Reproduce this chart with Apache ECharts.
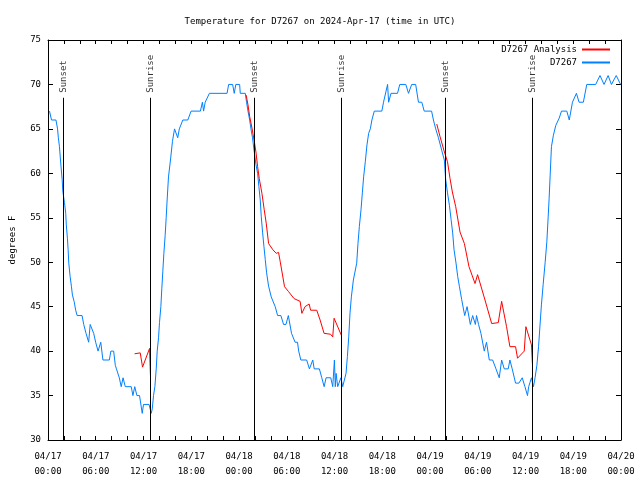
<!DOCTYPE html>
<html>
<head>
<meta charset="utf-8">
<script src="https://cdn.jsdelivr.net/npm/echarts@6/dist/echarts.min.js"></script>
<style>html,body{margin:0;padding:0;background:#fff}#c{width:640px;height:480px}</style>
</head>
<body>
<div id="c"></div>
<script>
// hours since 2024-04-17 00:00 UTC
const xTickLabels = ['04/17\n00:00','04/17\n06:00','04/17\n12:00','04/17\n18:00','04/18\n00:00','04/18\n06:00','04/18\n12:00','04/18\n18:00','04/19\n00:00','04/19\n06:00','04/19\n12:00','04/19\n18:00','04/20\n00:00'];
const yTicks = [30,35,40,45,50,55,60,65,70,75];

const obsHours = [0.19,0.44,1.0,1.2,1.3,1.44,1.57,1.65,1.78,1.86,2.0,2.07,2.23,2.3,2.44,2.53,2.61,2.78,2.94,3.07,3.28,3.48,3.66,4.28,4.49,4.78,5.11,5.3,5.53,5.74,5.99,6.29,6.45,6.63,6.9,7.71,7.9,8.25,8.46,8.6,8.96,9.2,9.43,9.71,10.46,10.67,10.9,11.17,11.5,11.84,12.0,12.7,12.97,13.1,13.26,13.43,13.6,13.72,13.89,14.01,14.18,14.3,14.43,14.56,14.72,14.85,14.97,15.14,15.39,15.64,15.9,16.1,16.3,16.5,16.94,17.57,17.98,19.15,19.4,19.55,19.75,20.28,22.5,22.7,23.2,23.4,23.6,24.08,24.16,24.79,24.95,25.13,25.34,25.5,25.7,25.92,26.13,26.34,26.5,26.67,26.8,26.97,27.13,27.3,27.47,27.72,28.05,28.55,28.85,29.26,29.6,29.9,30.2,30.6,31.05,31.35,31.5,31.77,32.5,32.85,33.1,33.27,33.45,34.1,34.4,34.7,34.94,35.53,35.78,35.99,36.1,36.2,36.4,36.6,36.8,37.03,37.24,37.45,37.62,37.79,37.95,38.12,38.37,38.6,38.79,38.95,39.12,39.33,39.5,39.66,39.87,40.08,40.29,40.5,40.7,41.0,41.95,42.16,42.4,42.67,42.8,43.1,43.92,44.2,44.96,45.3,45.7,46.2,46.55,46.97,47.27,48.2,48.43,48.72,49.06,49.47,49.8,49.97,50.2,50.44,50.65,50.85,51.02,51.27,51.48,51.69,51.98,52.36,52.66,53.07,53.36,53.7,53.85,53.98,54.1,54.4,54.82,55.1,55.45,55.87,56.29,56.7,57.0,57.33,57.83,58.04,58.33,58.75,59.17,59.59,59.93,60.25,60.4,60.5,60.75,61.0,61.2,61.43,61.64,61.8,62.0,62.22,62.47,62.68,62.85,62.97,63.1,63.26,63.51,63.81,64.23,64.52,65.19,65.5,65.9,66.4,66.73,67.27,67.7,68.82,69.36,69.87,70.38,70.8,71.4,71.95];
const obsTemps = [67,66,66,65,64,63,61.5,60.6,59.3,58,57.8,56.7,55.5,54.2,52.7,51.4,49.9,48.4,47.3,46.3,45.6,44.6,44,44,43,42,41,43,43,42,41,40,40,41,39,39,40,40,38.4,38,37,36,37,36,36,35,36,35,35,33,34,34,33,33.5,35,36,38,40,41.5,43.2,45,47,49,51,53,55,57,59.6,61.5,63.6,65,65,64,65,66,66,67,67,68,67,68,69,69,70,70,69,70,70,69,69,68,67,66,65,64,62.4,61,60,58.5,57,55.1,53.3,51.8,50.3,48.8,47.3,46.1,45,44,44,43,43,44,42,41,41,40,39,39,38,38,39,38,38,37,36,37,37,36,39,36,37.5,36,36,37,36,36,37.5,39.4,41.6,44.3,46.1,48,48,49.9,52.1,54,55.9,57.8,59.6,61.3,63.2,64.5,65,66,67,67,68,68,70,68,69,69,70,70,69,70,70,68,68,67,67,66,65,64,62.6,61.5,59.3,57.8,56.4,54.8,53.3,51.4,49.9,48.4,47.3,45.8,44,45,43,44,43,44,44,43,42,40,41,39,39,38,37,39,38,38,39,38,36.4,36.4,37,36,35,36,36,37,36,37,38.4,40.5,42.6,45.2,47.5,50,52.3,55.1,57.2,59.8,63,64.3,65.4,66.2,67,67,66,68,69,68,68,70,70,71,70,71,70,71,70];

const ana1Hours = [10.88,11.59,11.88,12.76,12.87];
const ana1Temps = [39.7,39.8,38.2,40.3,37.3];
const ana2Hours = [24.9,25.13,25.34,25.63,25.92,26.13,26.34,26.55,26.88,27.17,27.42,27.72,28.26,28.68,28.97,29.18,29.72,30.22,30.93,31.68,31.9,32.3,32.81,33.0,33.77,34.19,34.69,35.5,35.78,35.95,36.9];
const ana2Temps = [68.8,67.7,66.4,65.1,63.6,62.4,60.75,59.4,57.75,55.9,54.4,52.1,51.4,51,51.1,50.06,47.25,46.7,45.9,45.6,44.25,45,45.3,44.6,44.6,43.5,42,41.9,41.6,43.7,41.7];
const ana3Hours = [48.85,49.27,49.81,50.2,50.52,50.81,51.23,51.77,52.32,52.9,53.66,53.98,54.91,55.75,56.58,57.0,57.62,58.04,58.75,59.0,59.84,60.05,60.75,60.88];
const ana3Temps = [65.55,64.1,62.4,61.3,59.4,57.9,56.25,53.4,52.1,49.5,47.6,48.6,45.75,43.1,43.2,45.6,42.75,40.5,40.5,39.2,40,42.75,40.7,38.4];

const sunEventHours = [1.93,12.85,25.93,36.87,49.95,60.87];
const sunEventNames = ['Sunset','Sunrise','Sunset','Sunrise','Sunset','Sunrise'];
const sunLineTop = 68.5;

const FONT = 'DejaVu Sans Mono';
const zip = (a, b) => a.map((v, i) => [v, b[i]]);

const chart = echarts.init(document.getElementById('c'), null, {renderer: 'canvas'});
const anaStyle = {type:'line', name:'D7267 Analysis', showSymbol:false, symbol:'none', lineStyle:{color:'#ff0000', width:1}, itemStyle:{color:'#ff0000'}, animation:false, z:3};

const option = {
  animation: false,
  backgroundColor: '#ffffff',
  textStyle: {fontFamily: FONT, color: '#000'},
  title: {
    text: 'Temperature for D7267 on 2024-Apr-17 (time in UTC)',
    left: 'center', top: 12,
    textStyle: {fontFamily: FONT, fontSize: 9, fontWeight: 'normal', color: '#000'}
  },
  legend: {
    data: ['D7267 Analysis', 'D7267'],
    orient: 'vertical', right: 25, top: 40, align: 'right',
    itemWidth: 28, itemHeight: 2, itemGap: 4, icon: 'rect',
    textStyle: {fontFamily: FONT, fontSize: 9, color: '#000'}
  },
  grid: {left: 46.5, right: 19, top: 40, bottom: 40},
  xAxis: [{
    type: 'value', min: 0, max: 72, interval: 6,
    axisLine: {show: true, onZero: false, lineStyle: {color: '#000', width: 1}},
    axisTick: {show: true, inside: true, length: 4, lineStyle: {color: '#000'}},
    minorTick: {show: true, splitNumber: 3, length: 4, lineStyle: {color: '#000'}},
    splitLine: {show: false},
    axisLabel: {fontFamily: FONT, fontSize: 9, color: '#000', lineHeight: 15, margin: 9,
      formatter: v => xTickLabels[Math.round(v / 6)]}
  }, {
    type: 'value', min: 0, max: 72, interval: 6, position: 'top',
    axisLine: {show: true, onZero: false, lineStyle: {color: '#000', width: 1}},
    axisTick: {show: true, inside: true, length: 4, lineStyle: {color: '#000'}},
    minorTick: {show: true, splitNumber: 3, length: 4, lineStyle: {color: '#000'}},
    splitLine: {show: false}, axisLabel: {show: false}
  }],
  yAxis: [{
    type: 'value', min: 30, max: 75, interval: 5,
    name: 'degrees F', nameLocation: 'middle', nameGap: 31, nameRotate: 90,
    nameTextStyle: {fontFamily: FONT, fontSize: 9, color: '#000'},
    axisLine: {show: true, onZero: false, lineStyle: {color: '#000', width: 1}},
    axisTick: {show: true, inside: true, length: 5, lineStyle: {color: '#000'}},
    splitLine: {show: false},
    axisLabel: {fontFamily: FONT, fontSize: 9, color: '#000', margin: 7,
      formatter: v => yTicks.includes(v) ? String(v) : ''}
  }, {
    type: 'value', min: 30, max: 75, interval: 5, position: 'right',
    axisLine: {show: true, onZero: false, lineStyle: {color: '#000', width: 1}},
    axisTick: {show: true, inside: true, length: 5, lineStyle: {color: '#000'}},
    splitLine: {show: false}, axisLabel: {show: false}
  }],
  series: [
    Object.assign({}, anaStyle, {data: zip(ana1Hours, ana1Temps)}),
    Object.assign({}, anaStyle, {data: zip(ana2Hours, ana2Temps)}),
    Object.assign({}, anaStyle, {data: zip(ana3Hours, ana3Temps)}),
    {
      type: 'line', name: 'D7267', showSymbol: false, symbol: 'none',
      lineStyle: {color: '#0080ff', width: 1}, itemStyle: {color: '#0080ff'},
      data: zip(obsHours, obsTemps), z: 2
    },
    {
      type: 'scatter', name: 'sun', symbolSize: 0, silent: true, z: 4,
      data: sunEventHours.map((h, i) => [h, sunLineTop, sunEventNames[i]]),
      label: {show: true, position: 'top', distance: 5, rotate: 90, align: 'left', verticalAlign: 'middle',
        fontFamily: FONT, fontSize: 9, color: '#000', formatter: p => p.data[2]},
      markLine: {
        silent: true, symbol: ['none', 'none'], animation: false,
        lineStyle: {color: '#000', width: 1, type: 'solid'},
        label: {show: false},
        data: sunEventHours.map(h => [{coord: [h, 30]}, {coord: [h, sunLineTop]}])
      }
    }
  ]
};
chart.setOption(option);
</script>
</body>
</html>
